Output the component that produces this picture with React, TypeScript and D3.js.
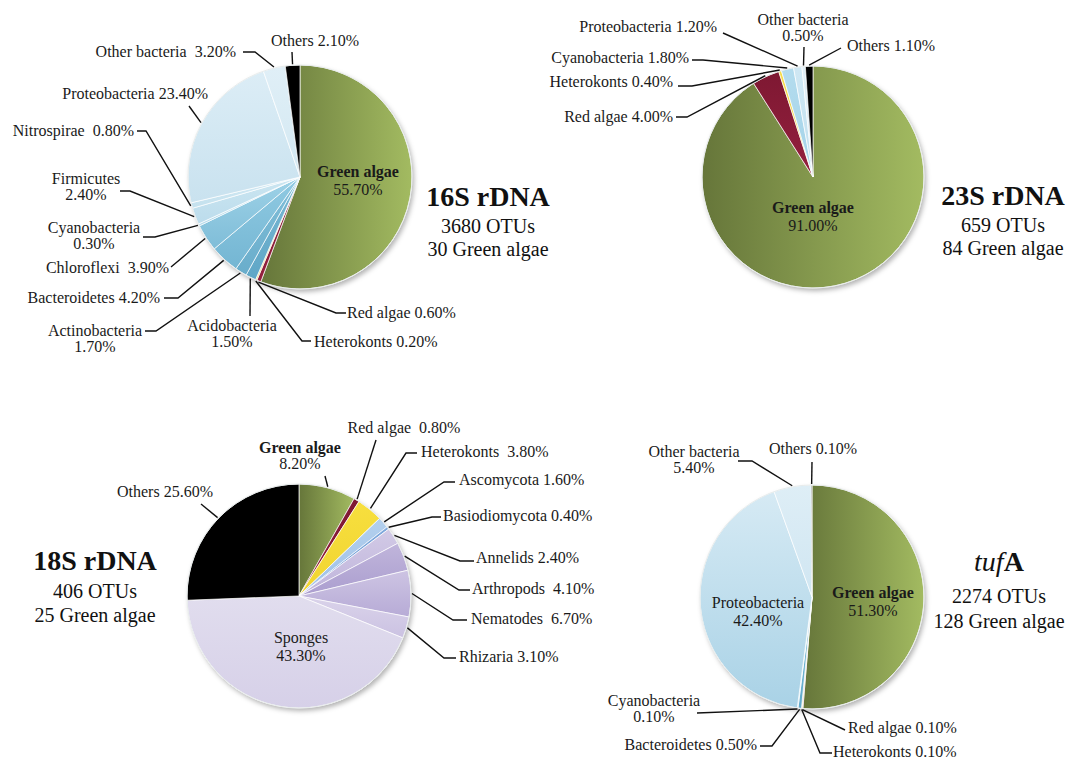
import React from "react";
import * as d3 from "d3";

const FONT = '"Liberation Serif", "Times New Roman", serif';

// ---- data: 16S rDNA ----
const names16S = ["Green algae", "Red algae", "Heterokonts", "Acidobacteria", "Actinobacteria", "Bacteroidetes", "Chloroflexi", "Cyanobacteria", "Firmicutes", "Nitrospirae", "Proteobacteria", "Other bacteria", "Others"];
const values16S = [55.7, 0.6, 0.2, 1.5, 1.7, 4.2, 3.9, 0.3, 2.4, 0.8, 23.4, 3.2, 2.1];
const colors16S = [["#66763a", "#a3bb61"], ["#7e1832", "#94203e"], ["#f3e08a", "#eed46a"], ["#7ab9d4", "#5fa6c6"], ["#82bfd9", "#69adcb"], ["#90cae2", "#74b6d3"], ["#9ed2e7", "#7fbdd8"], ["#c4e3f0", "#b4d9ea"], ["#cbe6f1", "#bcdcec"], ["#d2e9f3", "#c4e1ee"], ["#dcedf6", "#c9e2ef"], ["#e0eff7", "#d3e8f2"], ["#000000", "#000000"]];

// ---- data: 23S rDNA ----
const names23S = ["Green algae", "Red algae", "Heterokonts", "Cyanobacteria", "Proteobacteria", "Other bacteria", "Others"];
const values23S = [91.0, 4.0, 0.4, 1.8, 1.2, 0.5, 1.1];
const colors23S = [["#66763a", "#a3bb61"], ["#7e1832", "#94203e"], ["#f6dc4a", "#f0d040"], ["#b4dcee", "#a3d3e8"], ["#cfe7f3", "#c0e0ef"], ["#e0eff7", "#d5e9f3"], ["#000000", "#000000"]];

// ---- data: 18S rDNA ----
const names18S = ["Green algae", "Red algae", "Heterokonts", "Ascomycota", "Basiodiomycota", "Annelids", "Arthropods", "Nematodes", "Rhizaria", "Sponges", "Others"];
const values18S = [8.2, 0.8, 3.8, 1.6, 0.4, 2.4, 4.1, 6.7, 3.1, 43.3, 25.6];
const colors18S = [["#66763a", "#a3bb61"], ["#7e1832", "#94203e"], ["#f7df3e", "#f1d430"], ["#b3d0ee", "#9fc0e6"], ["#7fa9dc", "#6a98d2"], ["#d2cae6", "#bfb4db"], ["#c0b5db", "#ab9ecf"], ["#cdc4e3", "#b7abd6"], ["#dad3ea", "#cbc2e2"], ["#e1ddee", "#d6d0e8"], ["#000000", "#000000"]];

// ---- data: tufA ----
const namesTuf = ["Green algae", "Red algae", "Heterokonts", "Bacteroidetes", "Cyanobacteria", "Proteobacteria", "Other bacteria", "Others"];
const valuesTuf = [51.3, 0.1, 0.1, 0.5, 0.1, 42.4, 5.4, 0.1];
const colorsTuf = [["#66763a", "#a3bb61"], ["#7e1832", "#94203e"], ["#f6dc4a", "#f0d040"], ["#7cbcd8", "#62aacb"], ["#a6d4e8", "#92c8e0"], ["#d6eaf4", "#a9d2e6"], ["#deeef6", "#d0e6f2"], ["#000000", "#000000"]];

type Pt = [number, number];
type LabelPos = {
  x: number;
  y: number;
  anchor?: "start" | "middle" | "end";
  two?: boolean;
  inside?: boolean;
  sep?: string;
  path?: Pt[];
};

const layout16S: Record<string, LabelPos> = {
  "Green algae": { x: 358, y: 177, inside: true, two: true },
  "Others": { x: 315, y: 46, anchor: "middle", path: [[292, 52]] },
  "Other bacteria": { x: 236, y: 57, anchor: "end", sep: "\u00a0 ", path: [[243, 52], [255, 52]] },
  "Proteobacteria": { x: 208, y: 99, anchor: "end", path: [[189, 106]] },
  "Nitrospirae": { x: 134, y: 136, anchor: "end", sep: "\u00a0 ", path: [[137, 131], [146, 131]] },
  "Firmicutes": { x: 86, y: 184, anchor: "middle", two: true, path: [[120, 191], [130, 191]] },
  "Cyanobacteria": { x: 94, y: 233, anchor: "middle", two: true, path: [[143, 237], [155, 237]] },
  "Chloroflexi": { x: 169, y: 273, anchor: "end", sep: "\u00a0 ", path: [[171, 267]] },
  "Bacteroidetes": { x: 160, y: 303, anchor: "end", path: [[164, 298], [178, 298]] },
  "Actinobacteria": { x: 95, y: 336, anchor: "middle", two: true, path: [[145, 331], [156, 331]] },
  "Acidobacteria": { x: 232, y: 331, anchor: "middle", two: true, path: [[250, 316]] },
  "Red algae": { x: 347, y: 318, anchor: "start", path: [[346, 313], [336, 313]] },
  "Heterokonts": { x: 314, y: 347, anchor: "start", path: [[311, 341], [302, 341]] },
};

const layout23S: Record<string, LabelPos> = {
  "Green algae": { x: 813, y: 213, inside: true, two: true },
  "Proteobacteria": { x: 717, y: 32, anchor: "end", path: [[723, 33]] },
  "Other bacteria": { x: 803, y: 25, anchor: "middle", two: true, path: [[804, 47]] },
  "Others": { x: 847, y: 51, anchor: "start", path: [[841, 48]] },
  "Cyanobacteria": { x: 689, y: 63, anchor: "end", path: [[692, 60], [703, 60]] },
  "Heterokonts": { x: 673, y: 87, anchor: "end", path: [[678, 86], [692, 86]] },
  "Red algae": { x: 673, y: 122, anchor: "end", path: [[676, 117], [687, 117]] },
};

const layout18S: Record<string, LabelPos> = {
  "Green algae": { x: 300, y: 453, anchor: "middle", two: true, path: [[325, 476]] },
  "Red algae": { x: 404, y: 433, anchor: "middle", sep: "\u00a0 ", path: [[376, 440]] },
  "Heterokonts": { x: 421, y: 457, anchor: "start", sep: "\u00a0 ", path: [[417, 453], [406, 453]] },
  "Ascomycota": { x: 459, y: 485, anchor: "start", path: [[455, 482], [444, 482]] },
  "Basiodiomycota": { x: 443, y: 521, anchor: "start", path: [[441, 517], [432, 517]] },
  "Annelids": { x: 476, y: 563, anchor: "start", path: [[474, 561], [460, 561]] },
  "Arthropods": { x: 472, y: 594, anchor: "start", sep: "\u00a0 ", path: [[470, 590], [459, 590]] },
  "Nematodes": { x: 471, y: 624, anchor: "start", sep: "\u00a0 ", path: [[467, 620], [453, 620]] },
  "Rhizaria": { x: 459, y: 662, anchor: "start", path: [[456, 658], [444, 658]] },
  "Sponges": { x: 301, y: 643, inside: true, two: true },
  "Others": { x: 165, y: 497, anchor: "middle", path: [[201, 504]] },
};

const layoutTuf: Record<string, LabelPos> = {
  "Green algae": { x: 873, y: 598, inside: true, two: true },
  "Proteobacteria": { x: 758, y: 608, inside: true, two: true },
  "Other bacteria": { x: 694, y: 457, anchor: "middle", two: true, path: [[738, 461], [752, 461]] },
  "Others": { x: 813, y: 454, anchor: "middle", path: [[812, 462]] },
  "Cyanobacteria": { x: 654, y: 706, anchor: "middle", two: true, path: [[697, 713]] },
  "Bacteroidetes": { x: 757, y: 750, anchor: "end", path: [[760, 746], [772, 746]] },
  "Red algae": { x: 848, y: 733, anchor: "start", path: [[845, 730]] },
  "Heterokonts": { x: 833, y: 757, anchor: "start", path: [[832, 753], [820, 753]] },
};

const pct = (v: number) => `${v.toFixed(2)}%`;

const PieChart = (props: {
  id: string;
  cx: number;
  cy: number;
  r: number;
  names: string[];
  values: number[];
  colors: string[][];
  layout: Record<string, LabelPos>;
}) => {
  const { id, cx, cy, r, names, values, colors, layout } = props;
  const createPie = d3.pie<number>().value(d => d).sort(null);
  const createArc = d3.arc<d3.PieArcDatum<number>>().innerRadius(0).outerRadius(r);
  const arcs = createPie(values);

  const edge = (a: d3.PieArcDatum<number>, k: number): Pt => {
    const m = (a.startAngle + a.endAngle) / 2;
    return [cx + (r + k) * Math.sin(m), cy - (r + k) * Math.cos(m)];
  };
  const line = d3.line();

  return (
    <g>
      <defs>
        {arcs.map((a, i) => {
          const horiz = names[i] === "Green algae";
          return (
            <linearGradient key={i} id={`${id}-g${i}`} x1="0" y1="0" x2={horiz ? 1 : 0} y2={horiz ? 0 : 1}>
              <stop offset="0" stopColor={colors[i][0]} />
              <stop offset="1" stopColor={colors[i][1]} />
            </linearGradient>
          );
        })}
      </defs>
      <circle cx={cx} cy={cy} r={r} fill="#fff" filter="url(#shadow)" />
      <g transform={`translate(${cx},${cy})`}>
        {arcs.map((a, i) => (
          <path key={i} d={createArc(a) || ""} fill={`url(#${id}-g${i})`} stroke="#ffffff" strokeWidth={0.7} />
        ))}
      </g>
      <circle cx={cx} cy={cy} r={r} fill="none" stroke="#e8ecec" strokeWidth={1} />
      {arcs.map((a, i) => {
        const name = names[i];
        const L = layout[name];
        if (!L) return null;
        const bold = name === "Green algae";
        const size = 16;
        const lh = L.inside ? 18 : 16;
        const anchor = L.inside ? "middle" : L.anchor || "start";
        const lines = L.two ? [name, pct(a.data)] : [`${name}${L.sep || " "}${pct(a.data)}`];
        return (
          <g key={i}>
            {L.path && (
              <path d={line([...L.path, edge(a, 1)]) || ""} fill="none" stroke="#111" strokeWidth={1.4} />
            )}
            <text x={L.x} y={L.y} textAnchor={anchor} fontFamily={FONT} fontSize={size} fill="#1a1a1a">
              {L.two ? (
                <>
                  <tspan x={L.x} fontWeight={bold ? "bold" : "normal"}>{lines[0]}</tspan>
                  <tspan x={L.x} dy={lh}>{lines[1]}</tspan>
                </>
              ) : (
                lines[0]
              )}
            </text>
          </g>
        );
      })}
    </g>
  );
};

const Title = ({ x, ys, title, lines }: { x: number; ys: number[]; title: React.ReactNode; lines: string[] }) => (
  <g fontFamily={FONT} fill="#111" textAnchor="middle">
    <text x={x} y={ys[0]} fontSize={28} fontWeight="bold">{title}</text>
    <text x={x} y={ys[1]} fontSize={20}>{lines[0]}</text>
    <text x={x} y={ys[2]} fontSize={20}>{lines[1]}</text>
  </g>
);

export default function App() {
  return (
    <svg width={1083} height={761} style={{ position: "absolute", left: 0, top: 0, background: "#fff" }}>
      <defs>
        <filter id="shadow" x="-20%" y="-20%" width="140%" height="140%">
          <feDropShadow dx="2" dy="3" stdDeviation="2.5" floodColor="#000" floodOpacity="0.3" />
        </filter>
      </defs>
      <rect width={1083} height={761} fill="#fff" />
      <PieChart id="p16" cx={300} cy={177} r={112} names={names16S} values={values16S} colors={colors16S} layout={layout16S} />
      <PieChart id="p23" cx={813} cy={177} r={111} names={names23S} values={values23S} colors={colors23S} layout={layout23S} />
      <PieChart id="p18" cx={299} cy={596} r={112} names={names18S} values={values18S} colors={colors18S} layout={layout18S} />
      <PieChart id="ptu" cx={812} cy={597} r={112} names={namesTuf} values={valuesTuf} colors={colorsTuf} layout={layoutTuf} />
      <Title x={488} ys={[206, 233, 256]} title="16S rDNA" lines={["3680 OTUs", "30 Green algae"]} />
      <Title x={1003} ys={[205, 232, 255]} title="23S rDNA" lines={["659 OTUs", "84 Green algae"]} />
      <Title x={95} ys={[570, 598, 622]} title="18S rDNA" lines={["406 OTUs", "25 Green algae"]} />
      <Title
        x={999}
        ys={[571, 603, 628]}
        title={<><tspan fontStyle="italic" fontWeight="normal">tuf</tspan><tspan>A</tspan></>}
        lines={["2274 OTUs", "128 Green algae"]}
      />
    </svg>
  );
}
